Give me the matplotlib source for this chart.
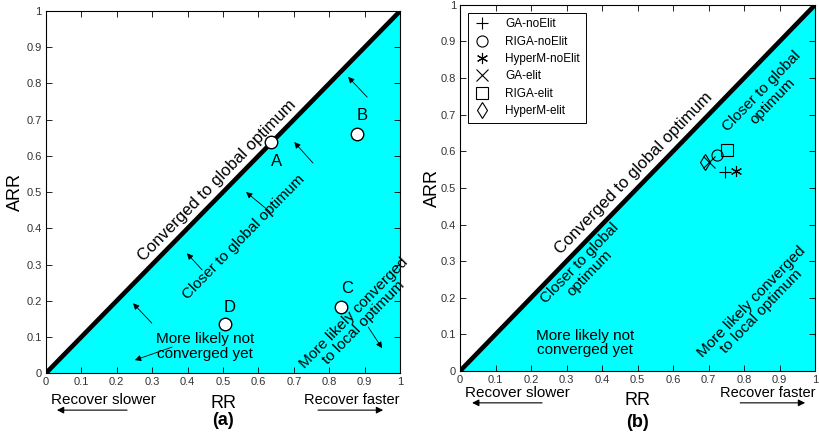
import matplotlib
matplotlib.use('Agg')
import matplotlib.pyplot as plt

plt.rcParams['font.family'] = ['Liberation Sans', 'DejaVu Sans']

# panel (a): labelled example points
pts_a_rr = [0.636, 0.879, 0.833, 0.506]
pts_a_arr = [0.638, 0.660, 0.182, 0.135]
pts_a_names = ['A', 'B', 'C', 'D']
pts_a_label_xy = [(0.65, 0.583), (0.893, 0.71), (0.85, 0.235), (0.52, 0.182)]

# panel (b): algorithm results
algos = ['GA-noElit', 'RIGA-noElit', 'HyperM-noElit', 'GA-elit', 'RIGA-elit', 'HyperM-elit']
algo_markers = ['+', 'o', (6, 2, 0), 'x', 's', 'd']
algo_rr = [0.746, 0.724, 0.777, 0.700, 0.752, 0.690]
algo_arr = [0.544, 0.590, 0.546, 0.571, 0.604, 0.571]

ticks = [0, 0.1, 0.2, 0.3, 0.4, 0.5, 0.6, 0.7, 0.8, 0.9, 1]
tick_labels = ['0', '0.1', '0.2', '0.3', '0.4', '0.5', '0.6', '0.7', '0.8', '0.9', '1']

fig = plt.figure(figsize=(8.2, 4.38), dpi=100)
ax1 = fig.add_axes([0.056, 0.148, 0.432, 0.827])
ax2 = fig.add_axes([0.561, 0.153, 0.433, 0.836])


def base(ax, lpad):
    # cyan region below the diagonal, thick black diagonal
    ax.fill_between([0, 1], [0, 1], [0, 0], color='#00ffff', linewidth=0)
    ax.plot([0, 1], [0, 1], color='black', lw=3.3, solid_capstyle='butt')
    ax.set_xlim(0, 1)
    ax.set_ylim(0, 1)
    ax.set_xticks(ticks)
    ax.set_yticks(ticks)
    ax.set_xticklabels(tick_labels)
    ax.set_yticklabels(tick_labels)
    ax.tick_params(direction='in', top=True, right=True, length=4, width=0.6,
                   labelsize=8, labelcolor='#333333', pad=3)
    for s in ax.spines.values():
        s.set_linewidth(0.8)
    ax.set_ylabel('ARR', fontsize=13, labelpad=lpad)


def rot_text(ax, x, y, s, size=11):
    ax.text(x, y, s, rotation=45, transform_rotates_text=True, rotation_mode='anchor',
            ha='center', va='center', fontsize=size, linespacing=1.0)


def arrow(ax, x0, y0, x1, y1):
    ax.annotate('', xy=(x1, y1), xytext=(x0, y0),
                arrowprops=dict(arrowstyle='-|>', color='black', lw=0.6,
                                mutation_scale=9, shrinkA=0, shrinkB=0))


def bottom(ax, tag, ys, ya, yrr, ytag, slow, fast, xs, xf):
    tr = ax.get_xaxis_transform()
    ax.text(xs, ys, 'Recover slower', transform=tr, ha='center', va='center', fontsize=11)
    ax.text(xf, ys, 'Recover faster', transform=tr, ha='center', va='center', fontsize=10.5)
    ax.text(0.5, yrr, 'RR', transform=tr, ha='center', va='center', fontsize=13)
    ax.text(0.5, ytag, tag, transform=tr, ha='center', va='center', fontsize=13, fontweight='bold')
    for (a, b) in (slow, fast):
        ax.annotate('', xy=(b, ya), xytext=(a, ya), xycoords=tr, textcoords=tr,
                    arrowprops=dict(arrowstyle='-|>', color='black', lw=0.8,
                                    mutation_scale=10, shrinkA=0, shrinkB=0),
                    annotation_clip=False)


# ---- panel (a)
base(ax1, 2)
ax1.plot(pts_a_rr, pts_a_arr, 'o', ms=9, mfc='white', mec='black', mew=1.0, zorder=5)
for name, (lx, ly) in zip(pts_a_names, pts_a_label_xy):
    ax1.text(lx, ly, name, ha='center', va='center', fontsize=12)
rot_text(ax1, 0.483, 0.533, 'Converged to global optimum', 12)
rot_text(ax1, 0.559, 0.376, 'Closer to global optimum', 11)
rot_text(ax1, 0.883, 0.152, 'More likely converged\nto local optimum', 11)
ax1.text(0.449, 0.074, 'More likely not\nconverged yet', ha='center', va='center',
         fontsize=11, linespacing=1.05)
arrow(ax1, 0.907, 0.762, 0.853, 0.818)
arrow(ax1, 0.754, 0.580, 0.701, 0.638)
arrow(ax1, 0.633, 0.445, 0.565, 0.500)
arrow(ax1, 0.441, 0.285, 0.398, 0.331)
arrow(ax1, 0.299, 0.138, 0.246, 0.193)
arrow(ax1, 0.356, 0.072, 0.251, 0.036)
arrow(ax1, 0.910, 0.127, 0.949, 0.069)
bottom(ax1, '(a)', -0.075, -0.102, -0.085, -0.13,
       (0.229, 0.031), (0.768, 0.952), 0.161, 0.864)

# ---- panel (b)
base(ax2, 0)
for name, m, x, y in zip(algos, algo_markers, algo_rr, algo_arr):
    ax2.plot([x], [y], linestyle='none', marker=m, ms=8, mfc='none', mec='black',
             mew=0.8, label=name, zorder=5)
leg = ax2.legend(loc='upper left', bbox_to_anchor=(0.005, 0.995), fontsize=8.5,
                 frameon=True, fancybox=False, edgecolor='black', framealpha=1,
                 handlelength=1.5, handletextpad=1.2, borderpad=0.5, labelspacing=0.45)
leg.get_frame().set_linewidth(0.7)
rot_text(ax2, 0.865, 0.75, 'Closer to global\noptimum', 11)
rot_text(ax2, 0.49, 0.541, 'Converged to global optimum', 12)
rot_text(ax2, 0.352, 0.281, 'Closer to global\noptimum', 11)
rot_text(ax2, 0.835, 0.175, 'More likely converged\nto local optimum', 11)
ax2.text(0.352, 0.077, 'More likely not\nconverged yet', ha='center', va='center',
         fontsize=11, linespacing=1.05)
bottom(ax2, '(b)', -0.06, -0.087, -0.08, -0.14,
       (0.231, 0.034), (0.789, 0.972), 0.163, 0.866)

fig.savefig('out.png', dpi=100)
